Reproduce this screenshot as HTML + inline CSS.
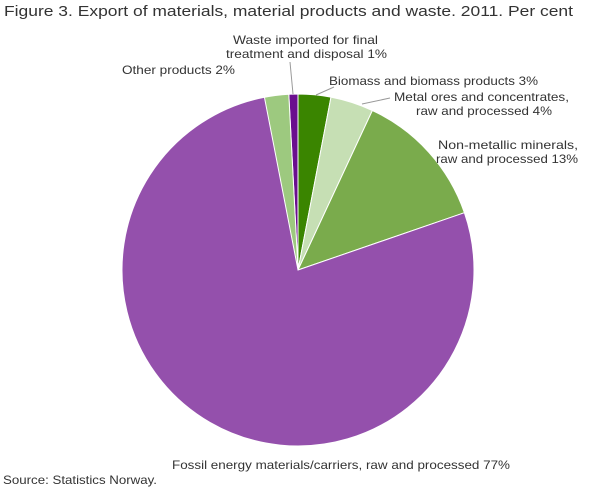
<!DOCTYPE html>
<html><head><meta charset="utf-8"><style>
body{margin:0;background:#fff;width:610px;height:488px;overflow:hidden;font-family:"Liberation Sans",sans-serif}
text{font-family:"Liberation Sans",sans-serif;fill:#333}
</style></head><body>
<svg id="s" width="610" height="488" viewBox="0 0 610 488">
<text x="4" y="16" font-size="15" fill="#222" textLength="569" lengthAdjust="spacingAndGlyphs">Figure 3.  Export of materials, material products and waste. 2011.  Per cent</text>
<g id="p" stroke="#fff" stroke-width="1"></g>
<g stroke="#999" stroke-width="1" fill="none">
<line x1="293" y1="94" x2="290" y2="62"/>
<line x1="316" y1="95" x2="334" y2="87"/>
<line x1="362" y1="104" x2="390" y2="98"/>
</g>
<g font-size="12" fill="#333">
<text x="233" y="44" textLength="145" lengthAdjust="spacingAndGlyphs">Waste imported for final</text>
<text x="226" y="58" textLength="161" lengthAdjust="spacingAndGlyphs">treatment and disposal 1%</text>
<text x="122" y="74" textLength="113" lengthAdjust="spacingAndGlyphs">Other products 2%</text>
<text x="329" y="85" textLength="209" lengthAdjust="spacingAndGlyphs">Biomass and biomass products 3%</text>
<text x="394" y="101" textLength="175" lengthAdjust="spacingAndGlyphs">Metal ores and concentrates,</text>
<text x="416" y="115" textLength="136" lengthAdjust="spacingAndGlyphs">raw and processed 4%</text>
<text x="438" y="149" textLength="140" lengthAdjust="spacingAndGlyphs">Non-metallic minerals,</text>
<text x="436" y="163" textLength="142" lengthAdjust="spacingAndGlyphs">raw and processed 13%</text>
<text x="172" y="469" textLength="338" lengthAdjust="spacingAndGlyphs">Fossil energy materials/carriers, raw and processed 77%</text>
<text x="3" y="484" textLength="154" lengthAdjust="spacingAndGlyphs">Source: Statistics Norway.</text>
</g>
</svg>
<script>
var cx=298,cy=270,r=176;
var sl=[[-3,0,"#6a0f8e"],[-11.8,-3,"#9dc97f"],[0,10.8,"#3a8500"],[10.8,25,"#c6dfb4"],[25,71,"#7aab4c"],[71,349,"#9450ac"]];
var g=document.getElementById("p"),h="";
function pt(a){a=a*Math.PI/180;return (cx+r*Math.sin(a)).toFixed(2)+","+(cy-r*Math.cos(a)).toFixed(2);}
sl.forEach(function(s){var big=(s[1]-s[0])>180?1:0;
h+='<path fill="'+s[2]+'" d="M'+cx+','+cy+' L'+pt(s[0])+' A'+r+','+r+' 0 '+big+' 1 '+pt(s[1])+' Z"/>';});
g.innerHTML=h;
</script>
</body></html>
